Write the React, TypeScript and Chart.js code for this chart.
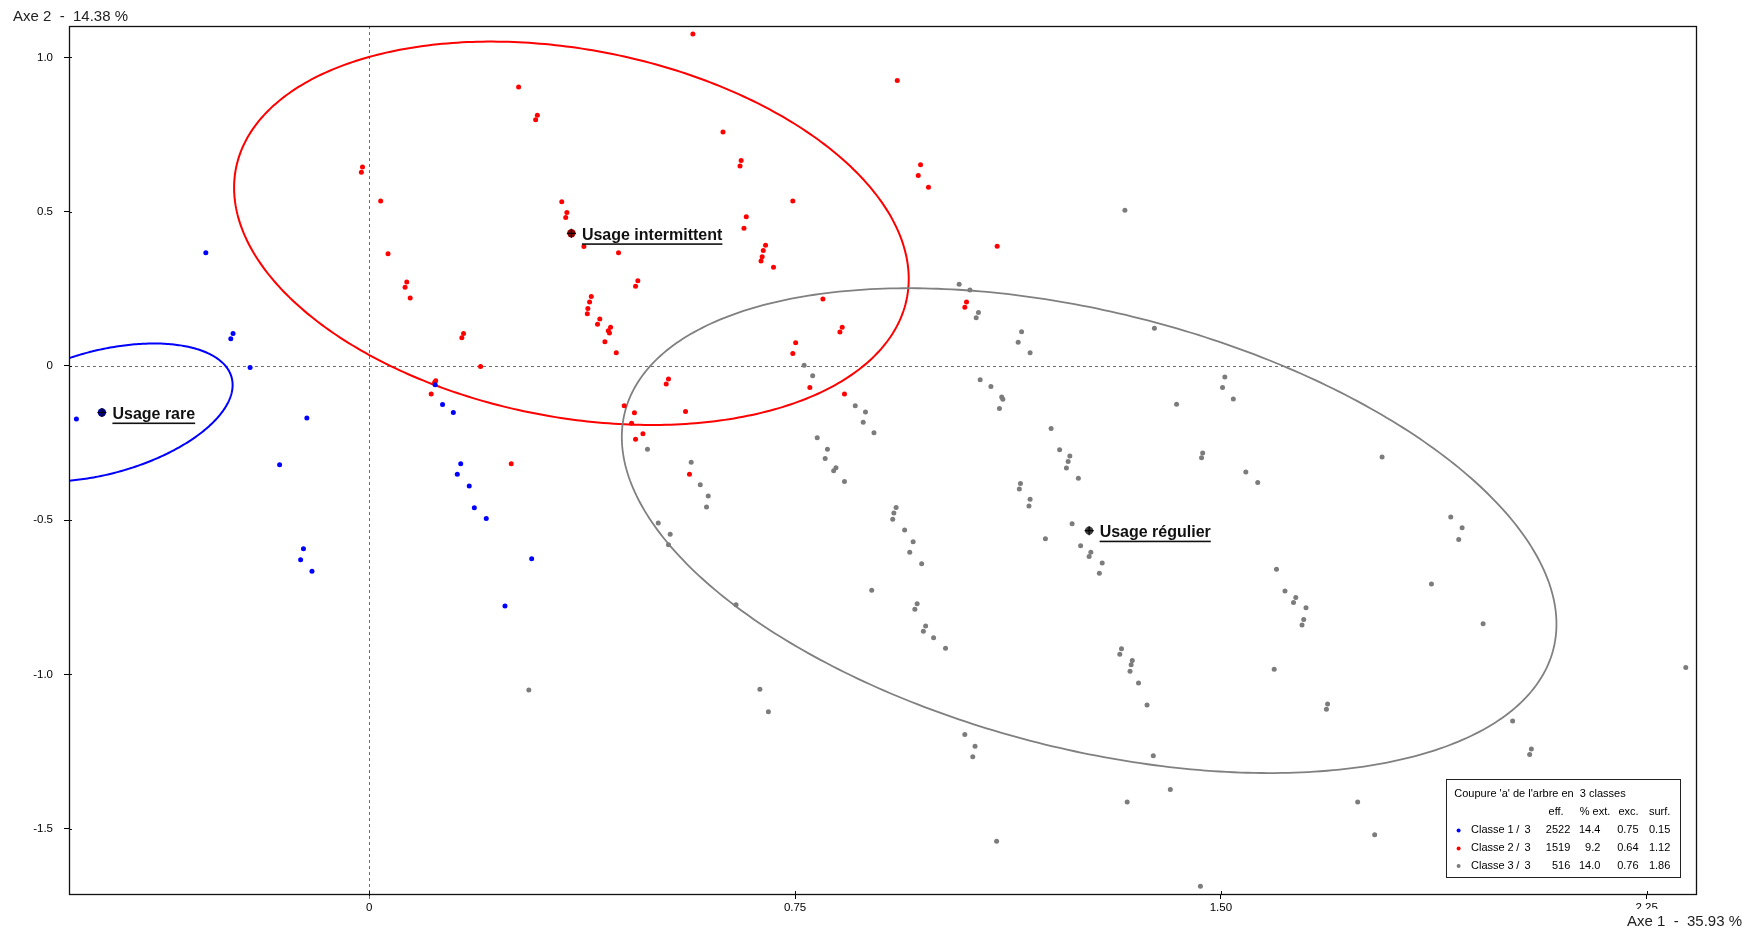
import React, { useEffect, useRef } from 'react';
import { Chart, registerables } from 'chart.js';

Chart.register(...registerables);

const FONT = '"Liberation Sans", Arial, sans-serif';

// ---- Classe 1 / 3 : Usage rare (blue)
const class1X = [-0.288, -0.240, -0.244, -0.210, 0.116, 0.129, 0.148, -0.110, -0.516, -0.158, 0.161, 0.155, 0.176, 0.185, 0.206, -0.116, -0.121, -0.101, 0.286, 0.239];
const class1Y = [0.367, 0.105, 0.088, -0.005, -0.061, -0.125, -0.151, -0.169, -0.172, -0.320, -0.317, -0.351, -0.389, -0.460, -0.495, -0.593, -0.628, -0.666, -0.625, -0.778];

// ---- Classe 2 / 3 : Usage intermittent (red)
const class2X = [0.263, 0.296, 0.293, -0.012, -0.014, 0.020, 0.339, 0.348, 0.346, 0.033, 0.066, 0.063, 0.072, 0.166, 0.163, 0.196, 0.117, 0.115, 0.109, 0.378,
  0.570, 0.930, 0.623, 0.655, 0.653, 0.971, 0.967, 0.985, 0.746, 0.664, 0.660, 1.106, 0.698, 0.694, 0.692, 0.690, 0.712, 0.439, 0.473, 0.469,
  0.391, 0.388, 0.385, 0.384, 0.406, 0.402, 0.425, 0.421, 0.423, 0.415, 0.435, 0.799, 0.833, 0.829, 0.751, 0.746, 1.052, 1.049, 0.527, 0.523,
  0.776, 0.837, 0.557, 0.449, 0.467, 0.462, 0.482, 0.469, 0.564, 0.250];
const class2Y = [0.904, 0.813, 0.798, 0.645, 0.628, 0.535, 0.532, 0.497, 0.481, 0.364, 0.272, 0.255, 0.220, 0.105, 0.091, -0.002, -0.048, -0.054, -0.091, 0.387,
  1.076, 0.925, 0.758, 0.666, 0.648, 0.652, 0.617, 0.579, 0.535, 0.484, 0.446, 0.388, 0.391, 0.374, 0.354, 0.340, 0.320, 0.367, 0.276, 0.258,
  0.225, 0.207, 0.186, 0.169, 0.152, 0.135, 0.125, 0.114, 0.107, 0.078, 0.043, 0.217, 0.125, 0.110, 0.075, 0.040, 0.207, 0.190, -0.042, -0.059,
  -0.070, -0.091, -0.148, -0.129, -0.152, -0.186, -0.220, -0.238, -0.351, -0.317];

// ---- Classe 3 / 3 : Usage régulier (gray)
const class3X = [1.039, 1.058, 1.073, 1.069, 1.149, 1.143, 1.164, 0.766, 0.781, 1.076, 1.095, 1.114, 1.116, 1.110, 0.856, 0.874, 0.870, 0.889, 0.789, 0.807,
  0.803, 0.490, 1.201, 1.216, 1.234, 1.331, 1.383, 1.507, 1.503, 1.522, 1.422, 1.468, 1.466, 1.784, 0.281, 0.567, 0.583, 0.597, 0.594, 0.509,
  0.530, 0.527, 0.646, 0.688, 0.703, 0.822, 0.818, 0.837, 0.928, 0.924, 0.922, 0.943, 0.958, 0.952, 0.973, 0.885, 0.965, 0.961, 0.980, 0.976,
  0.994, 1.015, 1.049, 1.067, 1.063, 1.105, 1.231, 1.228, 1.249, 1.147, 1.145, 1.164, 1.162, 1.238, 1.191, 1.253, 1.271, 1.268, 1.291, 1.286,
  1.544, 1.565, 1.905, 1.925, 1.919, 1.598, 1.613, 1.632, 1.628, 1.650, 1.646, 1.643, 1.871, 1.962, 1.325, 1.322, 1.344, 1.342, 1.340, 1.355,
  1.370, 1.594, 1.688, 1.686, 2.014, 2.047, 2.044, 1.381, 1.411, 1.335, 1.741, 1.771, 1.464, 2.319];
const class3Y = [0.265, 0.246, 0.173, 0.156, 0.111, 0.077, 0.043, 0.002, -0.032, -0.045, -0.067, -0.101, -0.108, -0.138, -0.129, -0.149, -0.183, -0.217, -0.233, -0.270,
  -0.300, -0.270, -0.203, -0.272, -0.292, 0.505, 0.122, -0.036, -0.070, -0.107, -0.124, -0.282, -0.298, -0.295, -1.051, -0.312, -0.385, -0.422, -0.457, -0.509,
  -0.546, -0.580, -0.774, -1.048, -1.121, -0.330, -0.340, -0.375, -0.459, -0.477, -0.497, -0.532, -0.570, -0.604, -0.641, -0.727, -0.771, -0.789, -0.843, -0.860,
  -0.881, -0.915, -1.195, -1.233, -1.267, -1.541, -0.310, -0.331, -0.364, -0.381, -0.399, -0.432, -0.454, -0.512, -0.560, -0.583, -0.604, -0.618, -0.639, -0.672,
  -0.344, -0.378, -0.490, -0.525, -0.563, -0.659, -0.730, -0.751, -0.767, -0.784, -0.822, -0.840, -0.707, -0.836, -0.917, -0.935, -0.955, -0.969, -0.990, -1.028,
  -1.099, -0.983, -1.096, -1.113, -1.151, -1.242, -1.260, -1.264, -1.373, -1.414, -1.414, -1.520, -1.687, -0.978];

// ---- class centroids and their ellipses (center + conjugate half-axes, data units)
const centroidNames = ['Usage rare', 'Usage intermittent', 'Usage régulier'];
const centroidX = [-0.471, 0.356, 1.268];
const centroidY = [-0.151, 0.430, -0.534];
const ellipseUX = [0.2302, 0.5942, 0.8232];
const ellipseUY = [0.0891, -0.1478, -0.3031];
const ellipseVY = [0.2052, 0.6036, 0.7251];

const classColors = ['#0000ff', '#ff0000', '#7c7c7c'];
const centroidColors = ['#000090', '#900000', '#404040'];

// ---- legend table
const legendTitle = "Coupure 'a' de l'arbre en  3 classes";
const legendHeaders = ['eff.', '% ext.', 'exc.', 'surf.'];
const classNumbers = ['1', '2', '3'];
const effValues = ['2522', '1519', '516'];
const pctExtValues = ['14.4', '9.2', '14.0'];
const excValues = ['0.75', '0.64', '0.76'];
const surfValues = ['0.15', '1.12', '1.86'];

// ---- axes
const xTickValues = [0, 0.75, 1.5, 2.25];
const xTickLabels = ['0', '0.75', '1.50', '2.25'];
const yTickValues = [1.0, 0.5, 0, -0.5, -1.0, -1.5];
const yTickLabels = ['1.0', '0.5', '0', '-0.5', '-1.0', '-1.5'];
const xRange = [-0.529, 2.337];
const yRange = [-1.712, 1.102];
const xAxisTitle = 'Axe 1  -  35.93 %';
const yAxisTitle = 'Axe 2  -  14.38 %';

const toPoints = (xs: number[], ys: number[]) => xs.map((v, i) => ({ x: v, y: ys[i] }));

const decor = {
  id: 'decor',
  beforeDatasetsDraw(chart: any) {
    const { ctx, chartArea: a, scales } = chart;
    const sx = scales.x, sy = scales.y;
    ctx.save();
    // zero dashed lines
    ctx.strokeStyle = '#6e6e6e';
    ctx.lineWidth = 1;
    ctx.setLineDash([3, 3]);
    const x0 = Math.round(sx.getPixelForValue(0)) + 0.5;
    const y0 = Math.round(sy.getPixelForValue(0)) + 0.5;
    ctx.beginPath();
    ctx.moveTo(x0, a.top);
    ctx.lineTo(x0, a.bottom + 5);
    ctx.moveTo(a.left, y0);
    ctx.lineTo(a.right, y0);
    ctx.stroke();
    ctx.setLineDash([]);

    // ellipses, clipped to plot
    ctx.save();
    ctx.beginPath();
    ctx.rect(a.left, a.top, a.right - a.left, a.bottom - a.top);
    ctx.clip();
    for (let k = 0; k < 3; k++) {
      ctx.strokeStyle = k === 2 ? '#808080' : classColors[k];
      ctx.lineWidth = k === 2 ? 1.8 : 2;
      ctx.beginPath();
      const n = 400;
      for (let i = 0; i <= n; i++) {
        const t = (i / n) * Math.PI * 2;
        const dx = centroidX[k] + ellipseUX[k] * Math.cos(t);
        const dy = centroidY[k] + ellipseUY[k] * Math.cos(t) + ellipseVY[k] * Math.sin(t);
        const px = sx.getPixelForValue(dx);
        const py = sy.getPixelForValue(dy);
        if (i === 0) ctx.moveTo(px, py); else ctx.lineTo(px, py);
      }
      ctx.closePath();
      ctx.stroke();
    }
    ctx.restore();

    // frame
    ctx.strokeStyle = '#111';
    ctx.lineWidth = 1.3;
    ctx.strokeRect(Math.round(a.left) + 0.5, Math.round(a.top) + 0.5, Math.round(a.right - a.left), Math.round(a.bottom - a.top));
    // inner tick parts
    ctx.lineWidth = 1;
    ctx.beginPath();
    xTickValues.forEach((v) => {
      const p = Math.round(sx.getPixelForValue(v)) + 0.5;
      ctx.moveTo(p, a.bottom);
      ctx.lineTo(p, a.bottom - 3);
    });
    yTickValues.forEach((v) => {
      const p = Math.round(sy.getPixelForValue(v)) + 0.5;
      ctx.moveTo(a.left, p);
      ctx.lineTo(a.left + 3, p);
    });
    ctx.stroke();
    ctx.restore();
  },
  afterDatasetsDraw(chart: any) {
    const { ctx, chartArea: a, scales } = chart;
    const sx = scales.x, sy = scales.y;
    ctx.save();
    // centroids with labels
    for (let k = 0; k < 3; k++) {
      const px = sx.getPixelForValue(centroidX[k]);
      const py = sy.getPixelForValue(centroidY[k]);
      ctx.fillStyle = centroidColors[k];
      ctx.beginPath();
      ctx.arc(px, py, 4.2, 0, Math.PI * 2);
      ctx.fill();
      ctx.strokeStyle = '#000';
      ctx.lineWidth = 1.2;
      ctx.beginPath();
      ctx.moveTo(px - 4.5, py);
      ctx.lineTo(px + 4.5, py);
      ctx.moveTo(px, py - 4.5);
      ctx.lineTo(px, py + 4.5);
      ctx.stroke();
      ctx.font = `bold 16px ${FONT}`;
      ctx.fillStyle = '#111';
      ctx.textAlign = 'left';
      ctx.textBaseline = 'middle';
      const tx = px + 10.5;
      ctx.fillText(centroidNames[k], tx, py + 2);
      const w = ctx.measureText(centroidNames[k]).width;
      ctx.fillRect(tx, py + 10, w, 1.6);
    }

    // legend box
    const bw = 233.6, bh = 98;
    const lx = Math.round(a.right - 16.7 - bw);
    const ly = Math.round(a.bottom - 17 - bh);
    ctx.fillStyle = '#fff';
    ctx.fillRect(lx, ly, bw, bh);
    ctx.strokeStyle = '#222';
    ctx.lineWidth = 1;
    ctx.strokeRect(lx + 0.5, ly + 0.5, Math.round(bw), bh);
    ctx.font = `11px ${FONT}`;
    ctx.fillStyle = '#000';
    ctx.textBaseline = 'middle';
    ctx.textAlign = 'left';
    ctx.fillText(legendTitle, lx + 8.3, ly + 15.2);
    ctx.textAlign = 'right';
    ctx.fillText(legendHeaders[0], lx + 117.6, ly + 33.4);
    ctx.fillText(legendHeaders[1], lx + 164.3, ly + 33.4);
    ctx.fillText(legendHeaders[2], lx + 192.6, ly + 33.4);
    ctx.fillText(legendHeaders[3], lx + 224.3, ly + 33.4);
    const rowY = [51.4, 69.4, 87];
    for (let k = 0; k < 3; k++) {
      const ry = ly + rowY[k];
      ctx.fillStyle = classColors[k];
      ctx.beginPath();
      ctx.arc(lx + 12.6, ry, 2, 0, Math.PI * 2);
      ctx.fill();
      ctx.fillStyle = '#000';
      ctx.textAlign = 'left';
      ctx.fillText('Classe', lx + 25, ry);
      ctx.fillText(classNumbers[k], lx + 61.6, ry);
      ctx.fillText('/', lx + 70.3, ry);
      ctx.fillText('3', lx + 78.6, ry);
      ctx.textAlign = 'right';
      ctx.fillText(effValues[k], lx + 124.3, ry);
      ctx.fillText(pctExtValues[k], lx + 154.3, ry);
      ctx.fillText(excValues[k], lx + 192.6, ry);
      ctx.fillText(surfValues[k], lx + 224.3, ry);
    }

    // axis titles
    ctx.font = `15px ${FONT}`;
    ctx.fillStyle = '#fff';
    ctx.fillRect(1618, 909, 133, 25);
    ctx.fillStyle = '#222';
    ctx.textBaseline = 'middle';
    ctx.textAlign = 'left';
    ctx.fillText(yAxisTitle, 13, 17);
    ctx.textAlign = 'right';
    ctx.fillText(xAxisTitle, 1742, 922);
    ctx.restore();
  },
};

export default function App() {
  const ref = useRef<HTMLCanvasElement>(null);
  useEffect(() => {
    document.body.style.overflow = 'hidden';
    const pointOpts = { pointRadius: 2.5, pointHoverRadius: 2.5, pointBorderWidth: 0 };
    const chart = new Chart(ref.current as HTMLCanvasElement, {
      type: 'scatter',
      data: {
        datasets: [
          { label: 'Classe 1 / 3', data: toPoints(class1X, class1Y), backgroundColor: classColors[0], borderColor: classColors[0], ...pointOpts },
          { label: 'Classe 2 / 3', data: toPoints(class2X, class2Y), backgroundColor: classColors[1], borderColor: classColors[1], ...pointOpts },
          { label: 'Classe 3 / 3', data: toPoints(class3X, class3Y), backgroundColor: classColors[2], borderColor: classColors[2], ...pointOpts },
        ],
      },
      options: {
        animation: false,
        responsive: false,
        maintainAspectRatio: false,
        events: [],
        layout: { padding: { top: 26, right: 55, left: 0, bottom: 0 } },
        plugins: { legend: { display: false }, tooltip: { enabled: false }, title: { display: false } },
        scales: {
          x: {
            type: 'linear',
            min: xRange[0],
            max: xRange[1],
            afterBuildTicks: (scale: any) => { scale.ticks = xTickValues.map((v) => ({ value: v })); },
            afterFit: (scale: any) => { scale.height = 40; },
            ticks: {
              autoSkip: false,
              maxRotation: 0,
              padding: 2,
              color: '#000',
              font: { family: FONT, size: 11.5 },
              callback: (v: any) => { const i = xTickValues.indexOf(Number(v)); return i >= 0 ? xTickLabels[i] : ''; },
            },
            grid: { drawOnChartArea: false, drawTicks: true, tickLength: 5, tickColor: '#000', tickWidth: 1 },
            border: { display: false },
          },
          y: {
            type: 'linear',
            min: yRange[0],
            max: yRange[1],
            afterBuildTicks: (scale: any) => { scale.ticks = yTickValues.map((v) => ({ value: v })); },
            afterFit: (scale: any) => { scale.width = 69; },
            ticks: {
              autoSkip: false,
              padding: 11,
              color: '#000',
              font: { family: FONT, size: 11.5 },
              callback: (v: any) => { const i = yTickValues.indexOf(Number(v)); return i >= 0 ? yTickLabels[i] : ''; },
            },
            grid: { drawOnChartArea: false, drawTicks: true, tickLength: 5, tickColor: '#000', tickWidth: 1 },
            border: { display: false },
          },
        },
      },
      plugins: [decor],
    } as any);
    return () => chart.destroy();
  }, []);
  return (
    <div style={{ position: 'absolute', left: 0, top: 0, width: 1751, height: 934, background: '#fff' }}>
      <canvas ref={ref} width={1751} height={934} style={{ display: 'block', width: 1751, height: 934 }} />
    </div>
  );
}
